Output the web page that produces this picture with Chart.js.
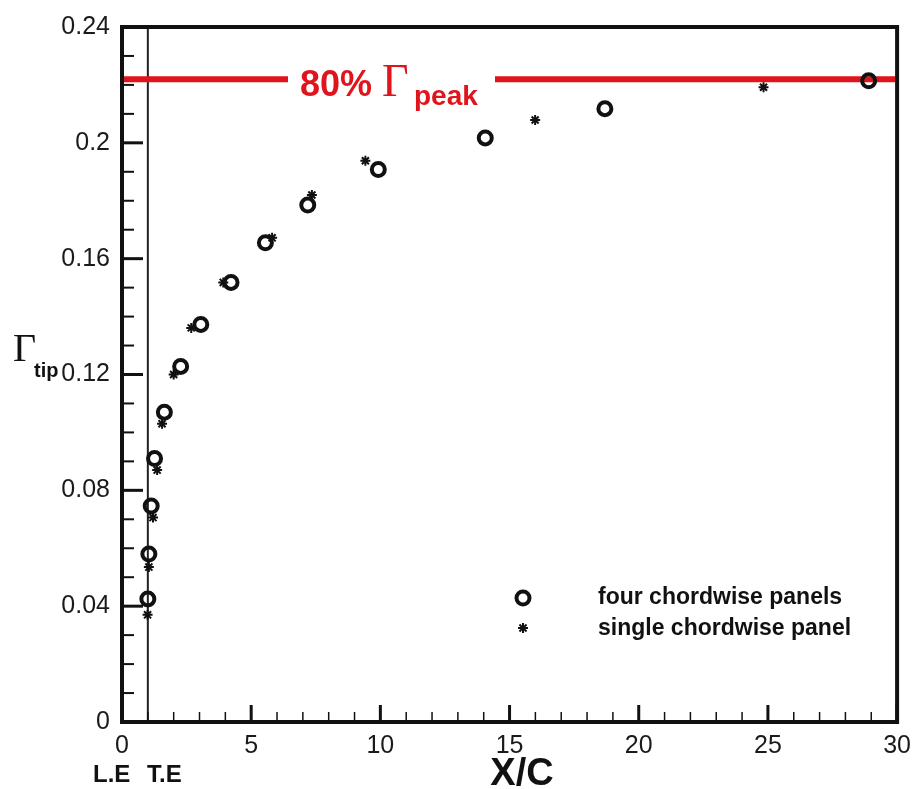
<!DOCTYPE html>
<html lang="en">
<head>
    <meta charset="UTF-8">
    <title>Tip circulation along X/C</title>
    <script src="https://cdn.jsdelivr.net/npm/chart.js"></script>
    <style>
        html, body { margin: 0; padding: 0; background: #fff; }
        #wrap { width: 920px; height: 789px; }
    </style>
</head>
<body>
<div id="wrap"><canvas id="tipChart" width="920" height="789"></canvas></div>

<script>
    // four chordwise panels (circles)
    const fourX = [1.0, 1.04, 1.13, 1.26, 1.64, 2.27, 3.05, 4.22, 5.55, 7.19, 9.92, 14.06, 18.69, 28.9];
    const fourY = [0.0425, 0.058, 0.0746, 0.091, 0.107, 0.1228, 0.1373, 0.1518, 0.1655, 0.1785, 0.1908, 0.2017, 0.2118, 0.2214];

    // single chordwise panel (stars)
    const singleX = [0.99, 1.04, 1.2, 1.36, 1.55, 2.0, 2.68, 3.92, 5.81, 7.35, 9.42, 15.99, 24.83];
    const singleY = [0.037, 0.0535, 0.0706, 0.087, 0.103, 0.12, 0.1361, 0.1518, 0.1672, 0.182, 0.1938, 0.2079, 0.2192];

    const peakLevel = 0.222;     // 80% of peak circulation
    const trailingEdge = 1;      // T.E position in X/C

    const xTickValues = [0, 5, 10, 15, 20, 25, 30];
    const yTickValues = [0, 0.04, 0.08, 0.12, 0.16, 0.2, 0.24];

    const seriesNames = ['four chordwise panels', 'single chordwise panel'];

    const RED = '#e0141c';
    const INK = '#111';
    const SANS = "'Liberation Sans', Arial, Helvetica, sans-serif";
    const SERIF = "'Liberation Serif', 'Times New Roman', serif";

    const pts = (xs, ys) => xs.map((x, i) => ({ x: x, y: ys[i] }));

    function drawStar(ctx, cx, cy, r) {
        ctx.beginPath();
        for (let k = 0; k < 4; k++) {
            const a = k * Math.PI / 4;
            ctx.moveTo(cx - r * Math.cos(a), cy - r * Math.sin(a));
            ctx.lineTo(cx + r * Math.cos(a), cy + r * Math.sin(a));
        }
        ctx.stroke();
    }

    // frame, inward ticks, labels and legend
    const framePlugin = {
        id: 'frame',
        afterDatasetsDraw(chart) {
            const { ctx, chartArea: a, scales: { x, y } } = chart;
            ctx.save();

            // gap + label on the 80% line
            const ly = y.getPixelForValue(peakLevel);
            ctx.fillStyle = '#fff';
            ctx.fillRect(288, ly - 6, 207, 12);
            ctx.fillStyle = RED;
            ctx.textBaseline = 'alphabetic';
            ctx.textAlign = 'left';
            ctx.font = 'bold 36px ' + SANS;
            ctx.fillText('80%', 300, ly + 17);
            ctx.font = '46px ' + SERIF;
            ctx.fillText('\u0393', 382, ly + 17);
            ctx.font = 'bold 28px ' + SANS;
            ctx.fillText('peak', 414, ly + 26);

            // ticks
            ctx.strokeStyle = INK;
            for (let i = 0; i <= 24; i++) {
                const py = y.getPixelForValue(i / 100);
                const major = i % 4 === 0;
                ctx.lineWidth = major ? 3 : 2;
                ctx.beginPath();
                ctx.moveTo(a.left, py);
                ctx.lineTo(a.left + (major ? 21 : 12), py);
                ctx.stroke();
            }
            for (let i = 0; i <= 30; i++) {
                const px = x.getPixelForValue(i);
                const major = i % 5 === 0;
                ctx.lineWidth = major ? 3 : 1.5;
                ctx.beginPath();
                ctx.moveTo(px, a.bottom);
                ctx.lineTo(px, a.bottom - (major ? 17 : 10));
                ctx.stroke();
            }

            // box
            ctx.lineWidth = 4;
            ctx.strokeRect(a.left, a.top, a.right - a.left, a.bottom - a.top);

            // legend
            ctx.lineWidth = 4;
            ctx.beginPath();
            ctx.arc(523, 598, 6.5, 0, Math.PI * 2);
            ctx.stroke();
            ctx.lineWidth = 2;
            drawStar(ctx, 523, 628, 5);
            ctx.fillStyle = INK;
            ctx.font = 'bold 23px ' + SANS;
            ctx.textBaseline = 'middle';
            ctx.fillText(seriesNames[0], 598, 598);
            ctx.fillText(seriesNames[1], 598, 629);

            // axis titles
            ctx.textBaseline = 'alphabetic';
            ctx.font = '40px ' + SERIF;
            ctx.fillText('\u0393', 13, 361);
            ctx.font = 'bold 20px ' + SANS;
            ctx.fillText('tip', 34, 377);

            ctx.font = 'bold 38px ' + SANS;
            ctx.textAlign = 'center';
            ctx.fillText('X/C', 522, 785);

            ctx.textAlign = 'left';
            ctx.font = 'bold 24px ' + SANS;
            ctx.fillText('L.E', 93, 782);
            ctx.fillText('T.E', 147, 782);

            ctx.restore();
        }
    };

    new Chart(document.getElementById('tipChart').getContext('2d'), {
        type: 'scatter',
        data: {
            datasets: [
                {
                    label: seriesNames[0],
                    data: pts(fourX, fourY),
                    pointStyle: 'circle',
                    pointRadius: 6.5,
                    borderWidth: 4,
                    borderColor: INK,
                    backgroundColor: 'rgba(0,0,0,0)',
                    order: 0
                },
                {
                    label: seriesNames[1],
                    data: pts(singleX, singleY),
                    pointStyle: 'star',
                    pointRadius: 5,
                    borderWidth: 2,
                    borderColor: INK,
                    backgroundColor: INK,
                    order: 1
                },
                {
                    label: '80% peak',
                    type: 'line',
                    data: [{ x: 0, y: peakLevel }, { x: 30, y: peakLevel }],
                    borderColor: RED,
                    borderWidth: 6,
                    pointRadius: 0,
                    order: 2
                },
                {
                    label: 'T.E',
                    type: 'line',
                    data: [{ x: trailingEdge, y: 0 }, { x: trailingEdge, y: 0.24 }],
                    borderColor: '#222',
                    borderWidth: 2,
                    pointRadius: 0,
                    order: 3
                }
            ]
        },
        options: {
            responsive: false,
            animation: false,
            layout: { padding: { left: 0, top: 17, right: 18, bottom: 0 } },
            plugins: {
                legend: { display: false },
                tooltip: { enabled: false }
            },
            scales: {
                x: {
                    type: 'linear',
                    min: 0,
                    max: 30,
                    afterBuildTicks: s => { s.ticks = xTickValues.map(v => ({ value: v })); },
                    afterFit: s => { s.height = 67; },
                    grid: { display: false, drawTicks: false },
                    border: { display: false },
                    ticks: {
                        padding: 9,
                        color: '#1a1a1a',
                        font: { family: SANS, size: 25 },
                        maxRotation: 0,
                        callback: v => String(v)
                    }
                },
                y: {
                    type: 'linear',
                    min: 0,
                    max: 0.24,
                    afterBuildTicks: s => { s.ticks = yTickValues.map(v => ({ value: v })); },
                    afterFit: s => { s.width = 122; },
                    grid: { display: false, drawTicks: false },
                    border: { display: false },
                    ticks: {
                        padding: 12,
                        color: '#1a1a1a',
                        font: { family: SANS, size: 25 },
                        callback: v => String(+v.toFixed(2))
                    }
                }
            }
        },
        plugins: [framePlugin]
    });
</script>
</body>
</html>
